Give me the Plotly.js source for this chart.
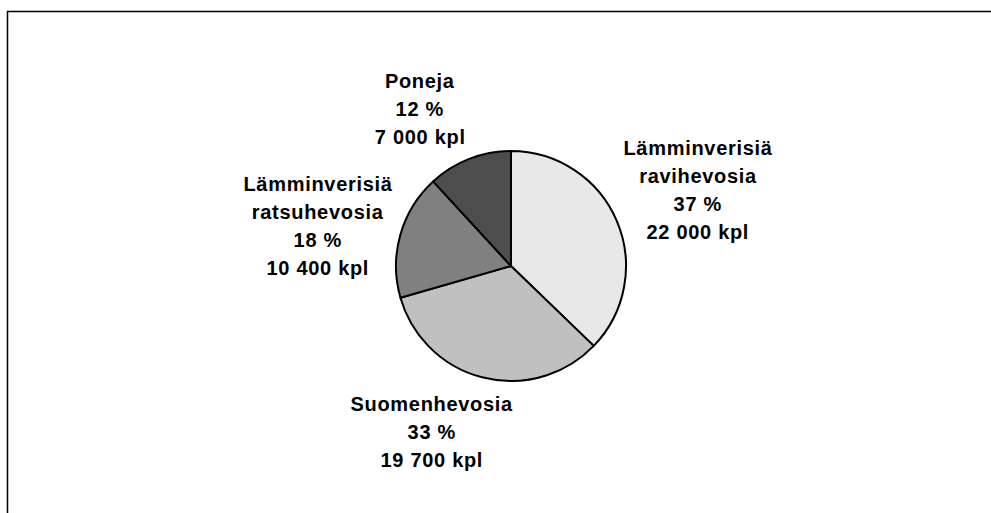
<!DOCTYPE html>
<html>
<head>
<meta charset="utf-8">
<script src="https://cdn.plot.ly/plotly-3.0.1.min.js"></script>
<style>html,body{margin:0;padding:0;background:#fff;}#chart{width:991px;height:513px;}</style>
</head>
<body>
<div id="chart"></div>
<script>
// Data
const categories = ["Lämminverisiä ravihevosia", "Suomenhevosia", "Lämminverisiä ratsuhevosia", "Poneja"];
const labelLines = [["Lämminverisiä", "ravihevosia"], ["Suomenhevosia"], ["Lämminverisiä", "ratsuhevosia"], ["Poneja"]];
const counts = [22000, 19700, 10400, 7000];
const countLabels = ["22 000 kpl", "19 700 kpl", "10 400 kpl", "7 000 kpl"];
const percentLabels = ["37 %", "33 %", "18 %", "12 %"];
const colors = ["#e8e8e8", "#c0c0c0", "#808080", "#4d4d4d"];

const W = 991, H = 513;
const px = x => x / W;
const py = y => 1 - y / H;

// label anchor positions (pixel): center x, first-line y, line step
const labelPos = [
  {x: 698, y: 148},
  {x: 432, y: 404},
  {x: 318, y: 184},
  {x: 420, y: 81}
];
const lineStep = 28;

const annotations = [];
categories.forEach((c, i) => {
  const lines = labelLines[i].concat([percentLabels[i], countLabels[i]]);
  lines.forEach((t, j) => {
    annotations.push({
      xref: 'paper', yref: 'paper',
      x: px(labelPos[i].x), y: py(labelPos[i].y + j * lineStep),
      xanchor: 'center', yanchor: 'middle',
      text: '<b>' + t + '</b>', showarrow: false,
      font: {family: 'Liberation Sans, Arial, sans-serif', size: 20, color: '#000'}
    });
  });
});

const cx = 511, cy = 266, r = 115;
const trace = {
  type: 'pie',
  labels: categories,
  values: counts,
  sort: false,
  direction: 'clockwise',
  rotation: 0,
  textinfo: 'none',
  hoverinfo: 'label+value+percent',
  marker: {colors: colors, line: {color: '#000', width: 2}},
  domain: {x: [px(cx - r), px(cx + r)], y: [py(cy + r), py(cy - r)]},
  showlegend: false
};

const layout = {
  width: W, height: H,
  margin: {l: 0, r: 0, t: 0, b: 0},
  paper_bgcolor: '#fff',
  showlegend: false,
  annotations: annotations,
  shapes: [
    {type: 'line', xref: 'paper', yref: 'paper', x0: px(7.5), x1: px(7.5), y0: py(11), y1: 0, line: {color: '#000', width: 1.5}},
    {type: 'line', xref: 'paper', yref: 'paper', x0: px(7), x1: 1, y0: py(11.5), y1: py(11.5), line: {color: '#000', width: 1.5}}
  ]
};

Plotly.newPlot('chart', [trace], layout, {displayModeBar: false, staticPlot: true}).then(() => {
  document.querySelectorAll('.annotation-text').forEach(el => {
    el.style.letterSpacing = '0.7px';
  });
});
</script>
</body>
</html>
